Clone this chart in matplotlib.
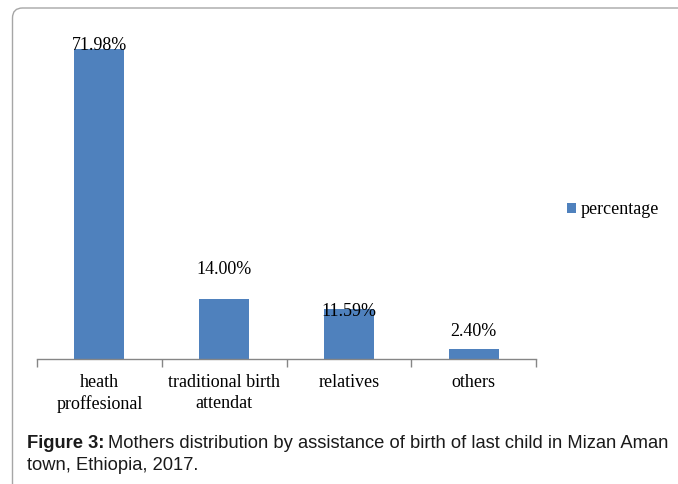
import matplotlib
matplotlib.use("Agg")
import matplotlib.pyplot as plt
from matplotlib.patches import FancyBboxPatch
import numpy as np

CATEGORIES = ["heath\nproffesional", "traditional birth\nattendat", "relatives", "others"]
PERCENTAGE = [71.98, 14.00, 11.59, 2.40]
LABELS = ["71.98%", "14.00%", "11.59%", "2.40%"]
# Excel put the data labels at slightly odd heights; offsets in data units
LABEL_OFFSETS = [1.0, 6.8, -0.6, 4.0]

BAR_COLOR = "#4F81BD"
AXIS_COLOR = "#868686"
SERIF = ["Liberation Serif", "DejaVu Serif"]
SANS = ["Liberation Sans", "DejaVu Sans"]

W, H = 678, 484
fig = plt.figure(figsize=(W / 100, H / 100), dpi=100)

# rounded frame, right/bottom edges fall outside the picture
frame = FancyBboxPatch((12.5 / 100, -0.5), 8.0, (H - 8) / 100 + 0.5,
                       boxstyle="round,pad=0,rounding_size=0.1",
                       transform=fig.dpi_scale_trans, fill=False,
                       edgecolor="#a6a6a6", lw=1.0, clip_on=False)
fig.patches.append(frame)

ax = fig.add_axes([37 / W, 1 - 359 / H, (536 - 37) / W, (359 - 15) / H])
x = np.arange(len(CATEGORIES))
ax.bar(x, PERCENTAGE, width=0.4, color=BAR_COLOR, label="percentage", zorder=2)

for xi, v, lab, off in zip(x, PERCENTAGE, LABELS, LABEL_OFFSETS):
    ax.text(xi, v + off, lab, ha="center", va="center", fontsize=13,
            family=SERIF, color="black", zorder=3)

ax.set_xlim(-0.5, len(CATEGORIES) - 0.5)
ax.set_ylim(0, 80)
for s in ["top", "right", "left"]:
    ax.spines[s].set_visible(False)
ax.spines["bottom"].set_color(AXIS_COLOR)
ax.spines["bottom"].set_linewidth(1.0)
ax.set_yticks([])

ax.set_xticks(x)
ax.set_xticklabels(CATEGORIES, family=SERIF, fontsize=13, linespacing=1.3)
ax.tick_params(axis="x", which="major", length=0, pad=11)
ax.set_xticks(np.arange(-0.5, len(CATEGORIES)), minor=True)
ax.tick_params(axis="x", which="minor", length=6, direction="out", color=AXIS_COLOR, width=1.0)

leg = fig.legend(loc="center left", bbox_to_anchor=(560 / W, 1 - 210 / H),
                 frameon=False, handlelength=0.5, handleheight=0.5,
                 handletextpad=0.25, borderaxespad=0, prop={"family": SERIF, "size": 13})

cap1 = fig.text(27 / W, 1 - 443 / H, "Figure 3:", fontsize=13.2, fontweight="bold",
                family=SANS, va="center", ha="left", color="#1a1a1a")
fig.canvas.draw()
bb = cap1.get_window_extent()
fig.text(bb.x1 / W + 4 / W, 1 - 443 / H,
         "Mothers distribution by assistance of birth of last child in Mizan Aman",
         fontsize=13.2, family=SANS, va="center", ha="left", color="#1a1a1a")
fig.text(27 / W, 1 - 466 / H, "town, Ethiopia, 2017.", fontsize=13.2, family=SANS,
         va="center", ha="left", color="#1a1a1a")

fig.savefig("out.png", dpi=100)
